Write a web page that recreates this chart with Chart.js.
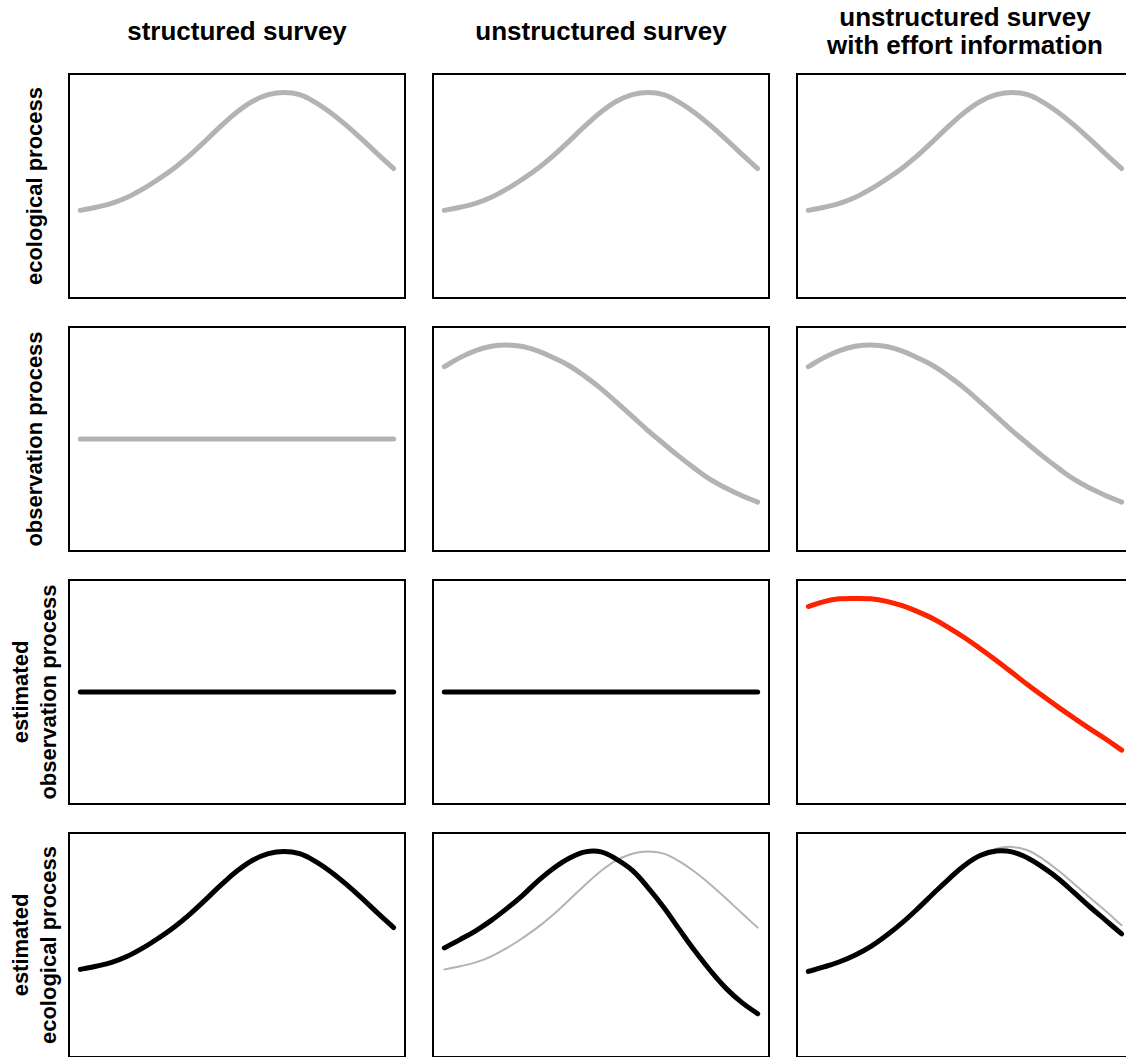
<!DOCTYPE html>
<html>
<head>
<meta charset="utf-8">
<script src="https://cdn.jsdelivr.net/npm/chart.js@4/dist/chart.umd.min.js"></script>
<style>
  html, body { margin: 0; padding: 0; background: #fff; }
  body { width: 1126px; height: 1057px; overflow: hidden; position: relative;
         font-family: "Liberation Sans", Arial, Helvetica, sans-serif; font-weight: bold; color: #000; }
  .panel { position: absolute; width: 338px; height: 226px; box-sizing: border-box; border: 2px solid #000; }
  .panel canvas { display: block; }
  .coltitle { position: absolute; top: 0; width: 380px; height: 62px; display: flex; align-items: center;
              justify-content: center; text-align: center; font-size: 26px; line-height: 28px; }
  .rowlabel { position: absolute; width: 240px; height: 60px; display: flex; align-items: center;
              justify-content: center; text-align: center; font-size: 22px; line-height: 28px;
              transform: rotate(-90deg); }
</style>
</head>
<body>
<script>
// gradient positions shared by every panel
const gradient = [0, 0.05, 0.1, 0.15, 0.2, 0.25, 0.3, 0.35, 0.4, 0.45, 0.5,
                  0.55, 0.6, 0.65, 0.7, 0.75, 0.8, 0.85, 0.9, 0.95, 1];

// true processes
const ecological = [39.2, 40.6, 42.3, 45.0, 48.7, 53.1, 58.0, 63.7, 70.1, 76.7, 82.7,
                    87.5, 90.4, 91.4, 90.4, 87.0, 82.3, 76.7, 70.5, 64.0, 57.7];
const observationFlat = [50, 50, 50, 50, 50, 50, 50, 50, 50, 50, 50,
                         50, 50, 50, 50, 50, 50, 50, 50, 50, 50];
const observationBiased = [82.0, 86.0, 89.1, 91.0, 91.6, 90.9, 88.9, 85.8, 82.3, 77.6, 72.3,
                           66.2, 60.0, 53.7, 47.9, 42.2, 36.9, 32.0, 28.2, 24.9, 22.1];

// estimates
const estObsFlat = [50, 50, 50, 50, 50, 50, 50, 50, 50, 50, 50,
                    50, 50, 50, 50, 50, 50, 50, 50, 50, 50];
const estObsEffort = [87.8, 90.0, 91.2, 91.4, 91.2, 90.1, 88.2, 85.5, 82.3, 78.3, 73.9,
                      69.0, 63.9, 58.6, 53.2, 48.1, 43.1, 38.3, 33.6, 29.1, 24.3];
const estEcoStructured = [39.2, 40.6, 42.3, 45.0, 48.7, 53.1, 58.0, 63.7, 70.1, 76.7, 82.7,
                          87.5, 90.4, 91.4, 90.4, 87.0, 82.3, 76.7, 70.5, 64.0, 57.7];
const estEcoUnstructured = [48.7, 52.4, 56.3, 60.9, 66.2, 72.0, 78.5, 84.1, 88.5, 91.2, 91.2,
                            87.9, 83.0, 75.4, 66.7, 56.9, 47.3, 38.5, 30.7, 24.5, 19.6];
const estEcoEffort = [38.3, 40.3, 42.6, 45.6, 49.4, 54.3, 59.9, 66.2, 72.9, 79.4, 85.4,
                      89.7, 91.6, 91.2, 88.5, 84.2, 79.1, 72.9, 66.7, 60.8, 54.9];
const ecologicalEffortRef = [39.2, 40.9, 42.9, 46.0, 50.0, 54.7, 60.2, 66.4, 72.7, 79.2, 84.8,
                             89.7, 92.6, 93.4, 91.9, 87.9, 82.7, 76.8, 70.8, 64.9, 58.7];

const colTitles = ["structured survey", "unstructured survey", "unstructured survey<br>with effort information"];
const rowLabels = ["ecological process", "observation process",
                   "estimated<br>observation process", "estimated<br>ecological process"];

const GREY = "#b3b3b3";
const RED = "rgb(255,34,0)";

const colLeft = [68, 432, 796];
const rowTop = [73, 326, 579, 832];

// each cell: list of [values, colour, width]; first entry drawn on top
const cells = [
  [[[ecological, GREY, 5]], [[ecological, GREY, 5]], [[ecological, GREY, 5]]],
  [[[observationFlat, GREY, 5]], [[observationBiased, GREY, 5]], [[observationBiased, GREY, 5]]],
  [[[estObsFlat, "#000", 5]], [[estObsFlat, "#000", 5]], [[estObsEffort, RED, 5]]],
  [[[estEcoStructured, "#000", 5]],
   [[estEcoUnstructured, "#000", 5], [ecological, GREY, 2]],
   [[estEcoEffort, "#000", 5], [ecologicalEffortRef, GREY, 2]]]
];

colTitles.forEach((t, c) => {
  const d = document.createElement("div");
  d.className = "coltitle";
  d.style.left = (colLeft[c] + 169 - 190) + "px";
  d.innerHTML = t;
  document.body.appendChild(d);
});

rowLabels.forEach((t, r) => {
  const d = document.createElement("div");
  d.className = "rowlabel";
  d.style.left = (35 - 120) + "px";
  d.style.top = (rowTop[r] + 113 - 30) + "px";
  d.innerHTML = t;
  document.body.appendChild(d);
});

cells.forEach((row, r) => {
  row.forEach((lines, c) => {
    const box = document.createElement("div");
    box.className = "panel";
    box.style.left = colLeft[c] + "px";
    box.style.top = rowTop[r] + "px";
    const canvas = document.createElement("canvas");
    canvas.width = 334;
    canvas.height = 222;
    box.appendChild(canvas);
    document.body.appendChild(box);

    new Chart(canvas, {
      type: "line",
      data: {
        datasets: lines.map(([vals, colour, w], i) => ({
          data: gradient.map((x, k) => ({ x: x, y: vals[k] })),
          borderColor: colour,
          borderWidth: w,
          order: i,
          pointRadius: 0,
          fill: false,
          tension: 0.4,
          borderCapStyle: "round",
          borderJoinStyle: "round"
        }))
      },
      options: {
        animation: false,
        responsive: false,
        events: [],
        layout: { padding: 0 },
        plugins: { legend: { display: false }, tooltip: { enabled: false } },
        scales: {
          x: { type: "linear", display: false, min: -0.033, max: 1.033 },
          y: { display: false, min: 0.9, max: 99.1 }
        }
      }
    });
  });
});
</script>
</body>
</html>
